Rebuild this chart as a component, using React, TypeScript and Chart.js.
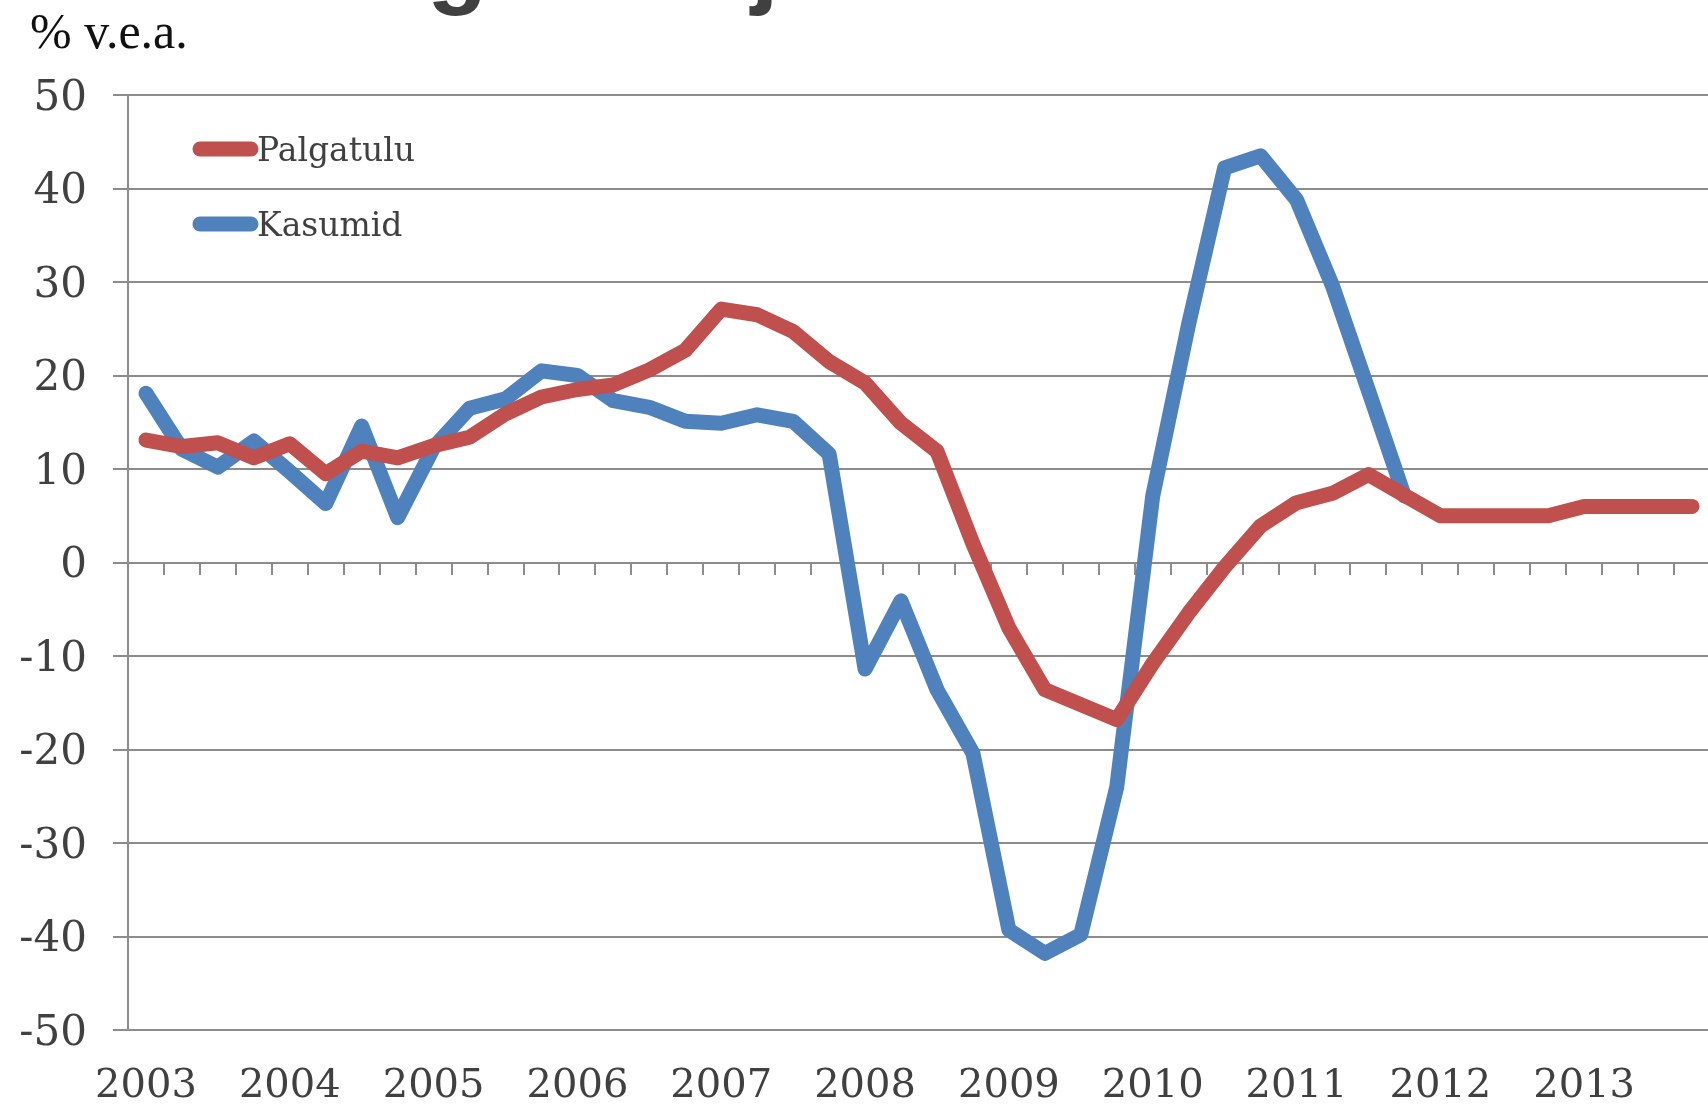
import React, { useEffect, useRef } from "react";
import { Chart, registerables } from "chart.js";

Chart.register(...registerables);

// ---- data ----
const years = ["2003", "2004", "2005", "2006", "2007", "2008", "2009", "2010", "2011", "2012", "2013"];
const quarters = ["Q1", "Q2", "Q3", "Q4"];
const categories = years.flatMap((y) => quarters.map((q) => `${y} ${q}`));

const palgatulu = [
  13.1, 12.4, 12.8, 11.2,
  12.7, 9.5, 11.9, 11.2,
  12.5, 13.4, 15.9, 17.7,
  18.5, 19.0, 20.6, 22.7,
  27.1, 26.5, 24.7, 21.5,
  19.2, 14.9, 11.9, 2.0,
  -7.0, -13.6, -15.2, -16.8,
  -10.8, -5.4, -0.5, 3.9,
  6.4, 7.4, 9.4, 7.2,
  5.0, 5.0, 5.0, 5.0,
  6.0, 6.0, 6.0, 6.0,
];

const kasumid = [
  18.1, 12.1, 10.2, 13.0,
  9.7, 6.3, 14.6, 4.8,
  12.3, 16.5, 17.5, 20.5,
  20.0, 17.3, 16.6, 15.1,
  14.9, 15.8, 15.1, 11.6,
  -11.4, -4.1, -13.6, -20.4,
  -39.3, -41.8, -39.8, -24.0,
  7.1, 25.5, 42.2, 43.5,
  38.8, 29.6, 18.4, 7.1,
  null, null, null, null,
  null, null, null, null,
];

const seriesNames = ["Palgatulu", "Kasumid"];
const yTicks = { min: -50, max: 50, step: 10 };
const unitLabel = "% v.e.a.";
const titleText = "Palgatulu ja kasumid";

// ---- styles ----
const RED = "#C0504D";
const BLUE = "#4F81BD";
const GRID = "#8c8c8c";
const TEXT = "#404040";
const SERIF = '"DejaVu Serif", Georgia, serif';

const overlayPlugin = {
  id: "overlayTexts",
  afterDraw(chart: any) {
    const ctx = chart.ctx as CanvasRenderingContext2D;
    ctx.save();

    // cut-off title (only descenders visible)
    const sansBold = (s: number) => `bold ${s}px "Liberation Sans", Arial, sans-serif`;
    ctx.font = sansBold(100);
    const w = ctx.measureText("gatulu ").width;
    const size = (100 * 324) / w;
    ctx.font = sansBold(size);
    const x0 = 427 - ctx.measureText("Pal").width;
    ctx.fillStyle = TEXT;
    ctx.textBaseline = "alphabetic";
    ctx.textAlign = "left";
    ctx.fillText(titleText, x0, -4);

    // unit label
    ctx.font = '50px "Liberation Serif", "Times New Roman", serif';
    ctx.fillStyle = "#111";
    ctx.fillText(unitLabel, 30, 48);

    // legend
    const items = chart.data.datasets.map((d: any) => ({ label: d.label, color: d.borderColor }));
    const rows = [149, 224];
    items.forEach((it: any, i: number) => {
      const y = rows[i];
      ctx.strokeStyle = it.color;
      ctx.lineWidth = 15;
      ctx.lineCap = "round";
      ctx.beginPath();
      ctx.moveTo(200, y);
      ctx.lineTo(251, y);
      ctx.stroke();
      ctx.font = `33px ${SERIF}`;
      ctx.fillStyle = TEXT;
      ctx.fillText(it.label, 257, y + 12);
    });

    ctx.restore();
  },
};

const zeroPad = (s: any) => {
  s.paddingLeft = 0;
  s.paddingRight = 0;
};

export default function App() {
  const ref = useRef<HTMLCanvasElement | null>(null);

  useEffect(() => {
    document.body.style.margin = "0";
    document.body.style.overflow = "hidden";
    const canvas = ref.current;
    if (!canvas) return;
    const xTickFont = { family: SERIF, size: 40 };
    const yTickFont = { family: SERIF, size: 42 };

    const chart = new Chart(canvas, {
      type: "line",
      data: {
        labels: categories,
        datasets: [
          {
            label: seriesNames[0],
            data: palgatulu,
            borderColor: RED,
            backgroundColor: RED,
            borderWidth: 15,
            xAxisID: "x",
            yAxisID: "y",
          },
          {
            label: seriesNames[1],
            data: kasumid,
            borderColor: BLUE,
            backgroundColor: BLUE,
            borderWidth: 15,
            xAxisID: "x",
            yAxisID: "y",
            spanGaps: false,
          },
        ],
      },
      options: {
        responsive: false,
        animation: false,
        events: [],
        layout: { padding: { top: 95, left: 0, right: 0, bottom: 0 } },
        elements: {
          point: { radius: 0, hoverRadius: 0 },
          line: { tension: 0, borderCapStyle: "round", borderJoinStyle: "round" },
        },
        plugins: {
          legend: { display: false },
          title: { display: false },
          tooltip: { enabled: false },
        },
        scales: {
          x: {
            type: "category",
            position: { y: 0 } as any,
            offset: true,
            grid: {
              display: true,
              drawOnChartArea: false,
              drawTicks: true,
              tickLength: 12,
              color: GRID,
              lineWidth: 2,
              offset: true,
            },
            border: { display: false },
            ticks: { display: false },
            afterFit: zeroPad,
          },
          x2: {
            type: "category",
            position: "bottom",
            offset: true,
            grid: { display: false, drawTicks: false },
            border: { display: false },
            ticks: {
              autoSkip: false,
              maxRotation: 0,
              minRotation: 0,
              padding: 33,
              font: xTickFont,
              color: TEXT,
              callback: (_v: any, i: number) => (i % 4 === 0 ? years[i / 4] : ""),
            },
            afterFit: (s: any) => {
              s.height = 77;
              zeroPad(s);
            },
          },
          y: {
            min: yTicks.min,
            max: yTicks.max,
            ticks: { stepSize: yTicks.step, padding: 26, font: yTickFont, color: TEXT, labelOffset: 4 },
            grid: { color: GRID, lineWidth: 2, tickLength: 15 },
            border: { display: true, color: GRID, width: 2 },
            afterFit: (s: any) => {
              s.width = 128;
            },
          },
        },
      },
      plugins: [overlayPlugin],
    });

    return () => chart.destroy();
  }, []);

  return (
    <div style={{ width: 1708, height: 1107, overflow: "hidden", position: "relative", background: "#fff" }}>
      <canvas ref={ref} width={1710} height={1107} style={{ display: "block" }} />
    </div>
  );
}
